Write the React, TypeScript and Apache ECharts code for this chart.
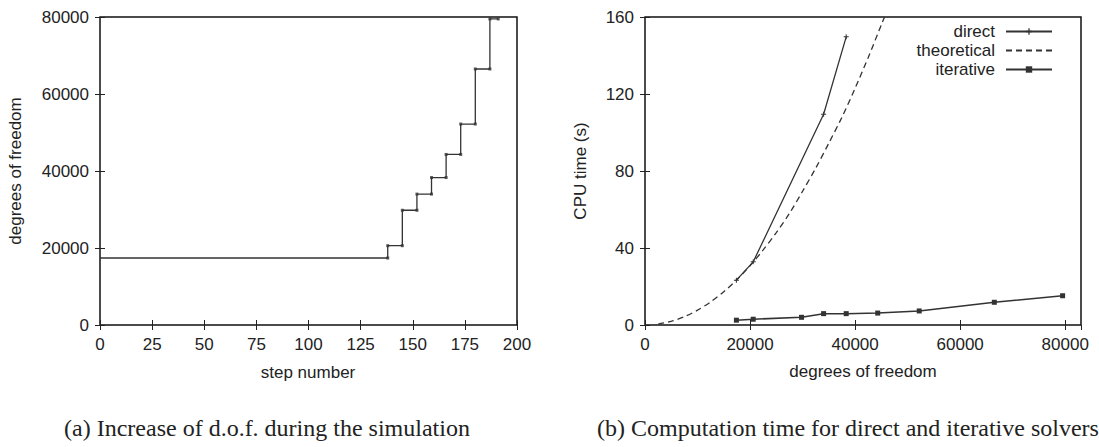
import React, { useEffect, useRef } from "react";
import * as echarts from "echarts";

// ---- data ----
const stepStarts = [0, 138, 145, 152, 159, 166, 173, 180, 187];
const stepLast = 191;
const dofLevels = [17400, 20600, 29800, 34000, 38300, 44300, 52200, 66500, 79500];

const directDof = [17400, 20600, 34000, 38300];
const directTime = [23.3, 32.8, 109.5, 149.7];

const iterativeDof = [17400, 20600, 29800, 34000, 38300, 44300, 52200, 66500, 79500];
const iterativeTime = [2.5, 3.0, 4.0, 5.9, 5.9, 6.2, 7.3, 11.8, 15.2];

const theoreticalDof = [2500, 5000, 7500, 10000, 12500, 15000, 17500, 20000, 22500, 25000, 27500, 30000, 32500, 35000, 37500, 40000, 42500, 45000, 45600];
const theoreticalTime = [0.5, 1.9, 4.3, 7.7, 12, 17.3, 23.6, 30.8, 39, 48, 58, 69.5, 81.5, 94.5, 108, 123, 139, 156, 160];

const leftXTicks = { min: 0, max: 200, interval: 25 };
const leftYTicks = { min: 0, max: 80000, interval: 20000 };
const rightXTicks = { min: 0, max: 83000, interval: 20000 };
const rightYTicks = { min: 0, max: 160, interval: 40 };

const SANS = "'Liberation Sans', Arial, sans-serif";
const SERIF = "'Liberation Serif', 'Times New Roman', serif";
const INK = "#222";
const LINE = "#333";

function axis(gridIndex: number, position: string, t: any, labels: boolean, extra: any = {}) {
  return {
    type: "value",
    gridIndex,
    position,
    min: t.min,
    max: t.max,
    interval: t.interval,
    axisLine: { show: false },
    splitLine: { show: false },
    axisTick: { show: true, inside: true, length: 5, lineStyle: { color: INK, width: 1 } },
    axisLabel: {
      show: labels,
      color: INK,
      fontSize: 17,
      fontFamily: SANS,
      margin: 11,
      showMaxLabel: extra.showMaxLabel,
      formatter: (v: number) => String(v),
    },
  };
}

export default function App() {
  const ref = useRef<HTMLDivElement>(null);
  useEffect(() => {
    if (!ref.current) return;
    const chart = echarts.init(ref.current, undefined, { renderer: "svg" });

    const stepData = stepStarts.map((s, i) => [s, dofLevels[i]]);
    stepData.push([stepLast, dofLevels[dofLevels.length - 1]]);
    const cornerData: number[][] = [];
    for (let i = 1; i < stepStarts.length; i++) {
      cornerData.push([stepStarts[i], dofLevels[i - 1]]);
      cornerData.push([stepStarts[i], dofLevels[i]]);
    }
    cornerData.push([stepLast, dofLevels[dofLevels.length - 1]]);

    const plus = "path://M2,0H3V2H5V3H3V5H2V3H0V2H2Z";

    chart.setOption({
      animation: false,
      backgroundColor: "#fff",
      grid: [
        { left: 100, top: 17, width: 417, height: 308, show: true, borderColor: "#111", borderWidth: 1.5, backgroundColor: "transparent" },
        { left: 645, top: 17, width: 436, height: 308, show: true, borderColor: "#111", borderWidth: 1.5, backgroundColor: "transparent" },
      ],
      xAxis: [
        axis(0, "bottom", leftXTicks, true),
        axis(0, "top", leftXTicks, false),
        axis(1, "bottom", rightXTicks, true, { showMaxLabel: false }),
        axis(1, "top", rightXTicks, false),
      ],
      yAxis: [
        axis(0, "left", leftYTicks, true),
        axis(0, "right", leftYTicks, false),
        axis(1, "left", rightYTicks, true),
        axis(1, "right", rightYTicks, false),
      ],
      legend: {
        orient: "vertical",
        right: 41,
        top: 18,
        align: "right",
        itemWidth: 46,
        itemHeight: 8,
        itemGap: 2,
        textStyle: { color: INK, fontSize: 17, fontFamily: SANS, padding: [0, 6, 0, 0] },
        data: ["direct", "theoretical", "iterative"],
      },
      series: [
        {
          type: "line",
          xAxisIndex: 0,
          yAxisIndex: 0,
          step: "end",
          data: stepData,
          symbol: "none",
          lineStyle: { color: LINE, width: 1.3 },
          silent: true,
        },
        {
          type: "scatter",
          xAxisIndex: 0,
          yAxisIndex: 0,
          data: cornerData,
          symbol: "rect",
          symbolSize: 3,
          itemStyle: { color: LINE },
          silent: true,
        },
        {
          name: "direct",
          type: "line",
          xAxisIndex: 2,
          yAxisIndex: 2,
          data: directDof.map((d, i) => [d, directTime[i]]),
          symbol: plus,
          symbolSize: 5,
          showAllSymbol: true,
          itemStyle: { color: LINE },
          lineStyle: { color: LINE, width: 1.3 },
        },
        {
          name: "theoretical",
          type: "line",
          xAxisIndex: 2,
          yAxisIndex: 2,
          data: theoreticalDof.map((d, i) => [d, theoreticalTime[i]]),
          smooth: 0.3,
          symbol: "none",
          showSymbol: false,
          itemStyle: { color: LINE, opacity: 0 },
          lineStyle: { color: LINE, width: 1.3, type: [6, 4] },
        },
        {
          name: "iterative",
          type: "line",
          xAxisIndex: 2,
          yAxisIndex: 2,
          data: iterativeDof.map((d, i) => [d, iterativeTime[i]]),
          symbol: "rect",
          symbolSize: 5,
          showAllSymbol: true,
          itemStyle: { color: LINE },
          lineStyle: { color: LINE, width: 1.5 },
        },
      ],
      graphic: [
        { type: "text", x: 15, y: 171, rotation: Math.PI / 2, style: { text: "degrees of freedom", fill: INK, font: `17px ${SANS}`, align: "center", verticalAlign: "middle" } },
        { type: "text", x: 308, y: 372, style: { text: "step number", fill: INK, font: `17px ${SANS}`, align: "center", verticalAlign: "middle" } },
        { type: "text", x: 580, y: 171, rotation: Math.PI / 2, style: { text: "CPU time (s)", fill: INK, font: `17px ${SANS}`, align: "center", verticalAlign: "middle" } },
        { type: "text", x: 863, y: 371, style: { text: "degrees of freedom", fill: INK, font: `17px ${SANS}`, align: "center", verticalAlign: "middle" } },
        { type: "text", x: 267, y: 428, style: { text: "(a) Increase of d.o.f. during the simulation", fill: INK, font: `24px ${SERIF}`, align: "center", verticalAlign: "middle" } },
        { type: "text", x: 848, y: 428, style: { text: "(b) Computation time for direct and iterative solvers", fill: INK, font: `24px ${SERIF}`, align: "center", verticalAlign: "middle" } },
      ],
    });
    return () => chart.dispose();
  }, []);
  return <div ref={ref} style={{ position: "absolute", left: 0, top: 0, width: 1099, height: 447 }} />;
}
